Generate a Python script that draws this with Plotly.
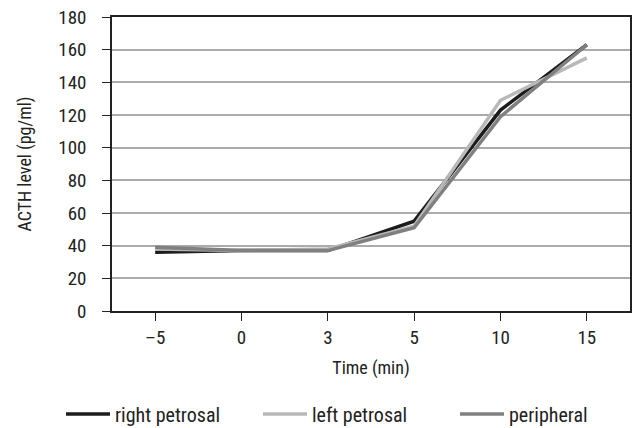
import plotly.graph_objects as go

times = ["\u20135", "0", "3", "5", "10", "15"]
right_petrosal = [36, 37, 37, 55, 123, 163]
left_petrosal = [38, 37, 38, 52, 129, 155]
peripheral = [39, 37, 37, 51, 119, 163]

FONT = "Roboto Condensed, Liberation Sans Narrow, Arial Narrow, Liberation Sans, Arial"

series = [("right petrosal", right_petrosal, "#1c1c1c", "legend"),
          ("left petrosal", left_petrosal, "#b8b8b8", "legend2"),
          ("peripheral", peripheral, "#808080", "legend3")]

fig = go.Figure()
for name, vals, col, lg in series:
    fig.add_trace(go.Scatter(x=times, y=vals, mode="lines", name=name, legend=lg,
                             line=dict(color=col, width=3.5)))

leg_common = dict(orientation="h", xanchor="left",
                  y=-0.35, yanchor="middle", font=dict(size=20), itemwidth=44)
PW = 634 - 112 - 4

fig.update_layout(
    width=634, height=428,
    margin=dict(l=112, r=4, t=17, b=117, autoexpand=False),
    paper_bgcolor="white", plot_bgcolor="white",
    font=dict(family=FONT, size=19, color="#222"),
    showlegend=True,
    legend=dict(x=(61 - 112) / PW, **leg_common),
    legend2=dict(x=(258 - 112) / PW, **leg_common),
    legend3=dict(x=(455 - 112) / PW, **leg_common),
    xaxis=dict(type="category", range=[-0.5, 5.5], showgrid=False, automargin=False,
               showline=True, linecolor="#222", linewidth=1.5, mirror=True,
               ticks="outside", ticklen=8, tickcolor="#222",
               title=dict(text="Time (min)", standoff=14, font=dict(size=18))),
    yaxis=dict(range=[0, 180], dtick=20, showgrid=True, gridcolor="#ababab", gridwidth=1.5,
               showline=True, linecolor="#222", linewidth=1.5, mirror=True, automargin=False,
               ticks="outside", ticklen=8, tickcolor="#222", zeroline=False,
               ticklabelstandoff=12,
               title=dict(text="ACTH level (pg/ml)", standoff=22, font=dict(size=18))),
)
fig.write_html("out.html", config={"displayModeBar": False},
               post_script="document.body.style.margin='0';document.body.style.overflow='hidden';")
